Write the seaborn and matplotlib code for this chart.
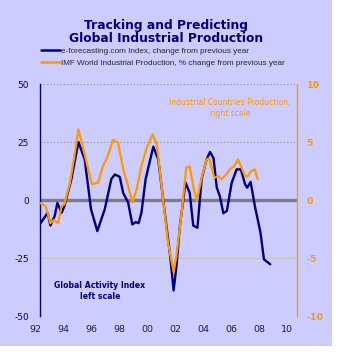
import numpy as np
import pandas as pd
import matplotlib
matplotlib.use("Agg")
import matplotlib.pyplot as plt
import matplotlib.transforms as mtransforms
from matplotlib.lines import Line2D
import seaborn as sns

# ---------------- data ----------------
blue_years = [1992.4, 1992.9, 1993.1, 1993.4, 1993.6, 1993.9, 1994.1, 1994.6, 1995.1,
              1995.55, 1996.0, 1996.45, 1996.98, 1997.45, 1997.7, 1998.05, 1998.3,
              1998.65, 1998.95, 1999.2, 1999.4, 1999.6, 1999.9, 2000.45, 2000.8,
              2001.3, 2001.65, 2001.9, 2002.1, 2002.35, 2002.75, 2003.05, 2003.3,
              2003.6, 2003.9, 2004.25, 2004.5, 2004.75, 2004.98, 2005.2, 2005.45,
              2005.7, 2006.05, 2006.4, 2006.7, 2007.0, 2007.15, 2007.4, 2007.7,
              2008.1, 2008.35, 2008.8]
blue_values = [-10, -5.5, -11, -7, -1.3, -5.5, -2.6, 9, 25,
               17.5, -4, -13.4, -4, 9, 11, 10, 3,
               -1.1, -10.5, -9.5, -10, -5.5, 9, 23, 17.5,
               -7, -24, -39, -28.5, -11, 7.5, 3, -11,
               -12, 9, 17.5, 20.7, 18, 5.3, 1.7, -5.7,
               -4.7, 7.5, 13.2, 13.2, 6.8, 5.3, 7.8, -2.6,
               -14, -25.6, -27.7]

orange_years = [1992.4, 1992.75, 1992.9, 1993.1, 1993.35, 1993.65, 1993.9, 1994.1,
                1994.5, 1994.85, 1995.1, 1995.4, 1995.8, 1996.07, 1996.5, 1996.86,
                1997.2, 1997.57, 1997.93, 1998.3, 1998.65, 1998.95, 1999.26, 1999.6,
                1999.98, 2000.4, 2000.7, 2000.93, 2001.2, 2001.5, 2001.9, 2002.1,
                2002.5, 2002.8, 2003.05, 2003.3, 2003.55, 2003.9, 2004.25, 2004.45,
                2004.8, 2005.1, 2005.3, 2005.6, 2005.9, 2006.2, 2006.5, 2006.75,
                2006.95, 2007.15, 2007.45, 2007.7, 2007.9]
# IMF industrial countries production, % (right scale)
orange_values = [-0.28, -0.52, -1.1, -2.0, -1.72, -2.0, -0.52, -0.38,
                 1.5, 4.08, 6.1, 4.66, 2.64, 1.36, 1.5, 2.94,
                 3.8, 5.2, 4.94, 2.64, 1.2, -0.2, 0.92, 2.94,
                 4.5, 5.66, 4.8, 2.36, -0.52, -3.68, -6.2, -4.8,
                 -0.8, 2.8, 2.88, 1.2, -0.08, 1.92, 3.5, 3.6,
                 1.92, 2.06, 1.8, 2.12, 2.64, 2.9, 3.5, 2.8,
                 2.2, 2.0, 2.5, 2.64, 1.8]

left_ticks = [-50, -25, 0, 25, 50]
right_ticks = [-10, -5, 0, 5, 10]
year_ticks = [1992, 1994, 1996, 1998, 2000, 2002, 2004, 2006, 2008, 2010]
year_labels = ["92", "94", "96", "98", "00", "02", "04", "06", "08", "10"]

title_text = "Tracking and Predicting\nGlobal Industrial Production"
legend_labels = ["e-forecasting.com Index, change from previous year",
                 "IMF World Industrial Production, % change from previous year"]

blue_df = pd.DataFrame({"year": blue_years, "value": blue_values})
orange_df = pd.DataFrame({"year": orange_years, "value": orange_values})

# ---------------- style ----------------
BG = "#CCCCFF"
NAVY = "#000080"
ORANGE = "#FF9900"

sns.set_style("white")
plt.rcParams["font.family"] = ["DejaVu Sans"]

W, H = 338, 352
fig = plt.figure(figsize=(W / 100, H / 100), dpi=100)
fig.patch.set_facecolor("white")
fig.patches.append(plt.Rectangle((0, 6 / H), 332 / W, 1 - 6 / H,
                                 transform=fig.transFigure, facecolor=BG,
                                 edgecolor="none", zorder=-10))

ax = fig.add_axes([40 / W, 1 - 316 / H, 257 / W, 232 / H])
ax.set_facecolor(BG)
ax.patch.set_alpha(0)

xmin, xmax = 1992.357, 2010.71
ax.set_xlim(xmin, xmax)
ax.set_ylim(-50, 50)

# gridlines
for v, ls, col, lw in [(50, (0, (1, 2)), "#8c8c8c", 0.8), (25, (0, (1, 2)), "#8c8c8c", 0.8),
                       (-25, "-", "#c8c8b0", 0.8), (-50, (0, (1, 2)), "#8c8c8c", 0.8)]:
    ax.axhline(v, color=col, lw=lw, ls=ls, zorder=1)
ax.axhline(0, color="#7d7d7d", lw=2.4, zorder=1)

sns.lineplot(data=blue_df, x="year", y="value", ax=ax, color=NAVY, lw=1.7,
             zorder=3, legend=False)

ax2 = ax.twinx()
ax2.set_ylim(-10, 10)
ax2.set_xlim(xmin, xmax)
sns.lineplot(data=orange_df, x="year", y="value", ax=ax2, color=ORANGE, lw=1.6,
             zorder=4, legend=False)

for a in (ax, ax2):
    a.set_xlabel("")
    a.set_ylabel("")
    for s in a.spines.values():
        s.set_visible(False)
    a.tick_params(length=0)

ax.spines["left"].set_visible(True)
ax.spines["left"].set_color(NAVY)
ax.spines["left"].set_linewidth(1.0)
ax2.spines["right"].set_visible(True)
ax2.spines["right"].set_color(ORANGE)
ax2.spines["right"].set_linewidth(1.0)
ax2.spines["right"].set_linestyle((0, (2, 1)))

ax.set_yticks(left_ticks)
ax.set_yticklabels([str(t) for t in left_ticks], color=NAVY, fontsize=6.5)
ax.tick_params(axis="y", pad=8)
ax2.set_yticks(right_ticks)
ax2.set_yticklabels([str(t) for t in right_ticks], color=ORANGE, fontsize=6.8,
                    fontweight="bold")
ax2.tick_params(axis="y", pad=7)

ax.set_xticks([])
trans = mtransforms.blended_transform_factory(ax.transData, ax.transAxes)
for yr, lab in zip(year_ticks, year_labels):
    ax.text(yr, -13 / 232, lab, transform=trans, ha="center", va="center",
            fontsize=6.8, color="#1a1a4a", clip_on=False)

# annotations
ax.text((100 - 40) / 257, 1 - (291 - 84) / 232, "Global Activity Index\nleft scale",
        transform=ax.transAxes, ha="center", va="center", fontsize=5.6,
        fontweight="bold", color=NAVY, linespacing=1.2)
ax.text((230 - 40) / 257, 1 - (108 - 84) / 232, "Industrial Countries Production,\nright scale",
        transform=ax.transAxes, ha="center", va="center", fontsize=5.5,
        color=ORANGE, linespacing=1.2)

# title
fig.text(166 / W, 1 - 32 / H, title_text, ha="center", va="center", fontsize=8.8,
         fontweight="bold", color=NAVY, linespacing=1.1)

# legend
handles = [Line2D([0], [0], color=NAVY, lw=1.8), Line2D([0], [0], color=ORANGE, lw=1.8)]
fig.legend(handles, legend_labels, loc="upper left", bbox_to_anchor=(41 / W, 1 - 47 / H),
           frameon=False, handlelength=2.3, handletextpad=0.15,
           labelspacing=0.6, borderaxespad=0, borderpad=0,
           prop={"family": "Liberation Sans", "size": 5.85})

fig.savefig("out.png", dpi=100, facecolor=fig.get_facecolor())
